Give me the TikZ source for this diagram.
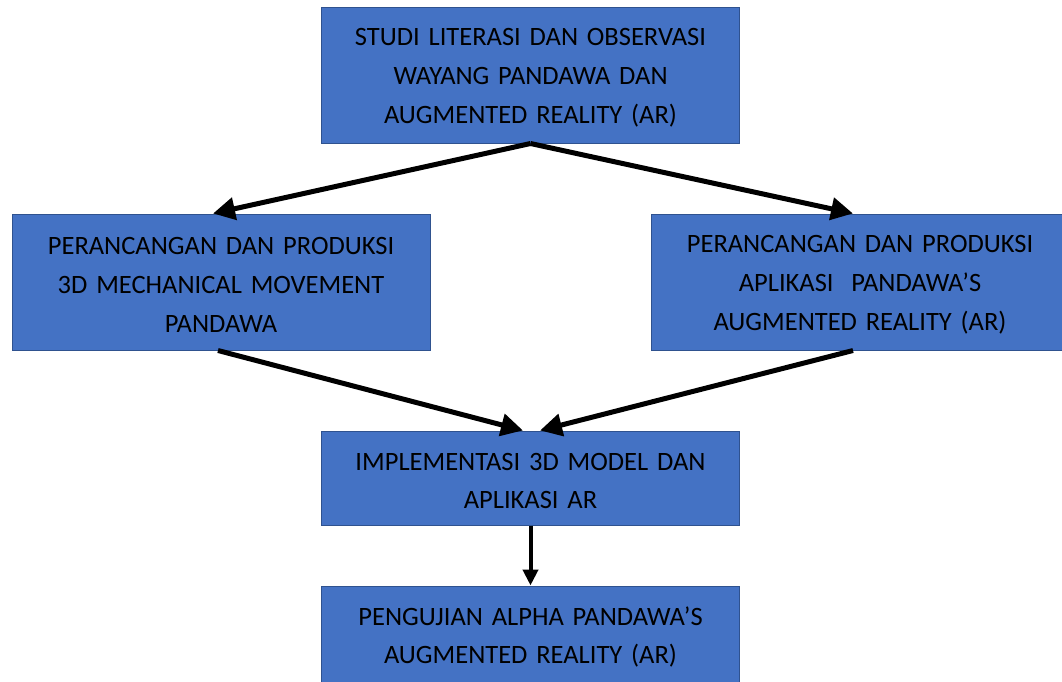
\documentclass[tikz,border=0pt]{standalone}
\usepackage{fontspec}
\setmainfont[WordSpace=0.6]{Carlito}
\usetikzlibrary{arrows.meta}
\definecolor{boxfill}{HTML}{4472C4}
\definecolor{boxline}{HTML}{2F528F}
\begin{document}
\begin{tikzpicture}[x=1pt,y=-1pt,
  stepbox/.style={draw=boxline, line width=1pt, fill=boxfill, inner sep=0pt,
    minimum width=418pt},
  boxtext/.style={inner sep=0pt, text width=410pt, align=center, text=black,
    font=\fontsize{26.5}{38.8}\selectfont, yshift=-3pt},
  bigarrow/.style={line width=5pt, -{Triangle[length=22pt,width=22pt]}},
  smallarrow/.style={line width=4pt, -{Triangle[length=16pt,width=15pt]}}]
\clip (0,0) rectangle (1062,681);
\fill[white] (0,0) rectangle (1062,681);
\node[stepbox, minimum height=136pt, label={[boxtext]center:STUDI LITERASI DAN OBSERVASI\\WAYANG PANDAWA DAN\\AUGMENTED REALITY (AR)}] (top) at (530.5,75) {};
\node[stepbox, minimum height=136pt, label={[boxtext]center:PERANCANGAN DAN PRODUKSI\\3D MECHANICAL MOVEMENT\\PANDAWA}] (left) at (221,282) {};
\node[stepbox, minimum height=136pt, label={[boxtext]center:PERANCANGAN DAN PRODUKSI\\APLIKASI \ PANDAWA’S\\AUGMENTED REALITY (AR)}] (right) at (860,282) {};
\node[stepbox, minimum height=94pt, label={[boxtext]center:IMPLEMENTASI 3D MODEL DAN\\APLIKASI AR}] (mid) at (530.5,478) {};
\node[stepbox, minimum height=96pt, label={[boxtext]center:PENGUJIAN ALPHA PANDAWA’S\\AUGMENTED REALITY (AR)}] (bot) at (530.5,634) {};
\draw[bigarrow] (top.south) -- ([xshift=-8pt]left.north);
\draw[bigarrow] (top.south) -- ([xshift=-7pt]right.north);
\draw[bigarrow] ([xshift=-3pt]left.south) -- ([xshift=-7.5pt]mid.north);
\draw[bigarrow] ([xshift=-7pt]right.south) -- ([xshift=9.5pt]mid.north);
\draw[smallarrow] (mid.south) -- (bot.north);
\end{tikzpicture}
\end{document}
